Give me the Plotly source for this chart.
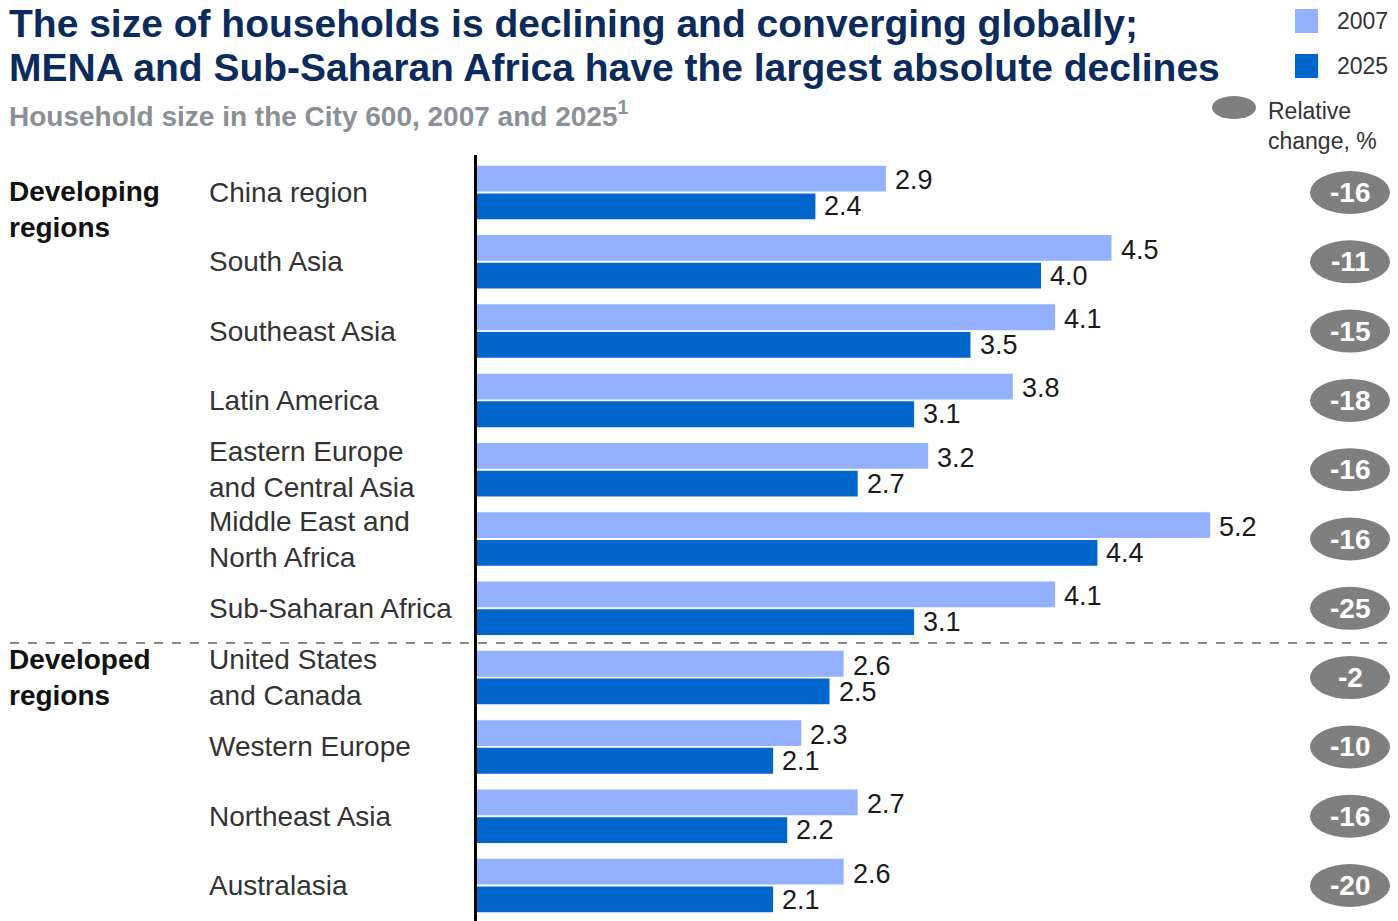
import plotly.graph_objects as go

# Household size by region, City 600
regions = [
    "China region", "South Asia", "Southeast Asia", "Latin America",
    "Eastern Europe<br>and Central Asia", "Middle East and<br>North Africa",
    "Sub-Saharan Africa", "United States<br>and Canada", "Western Europe",
    "Northeast Asia", "Australasia",
]
size_2007 = [2.9, 4.5, 4.1, 3.8, 3.2, 5.2, 4.1, 2.6, 2.3, 2.7, 2.6]
size_2025 = [2.4, 4.0, 3.5, 3.1, 2.7, 4.4, 3.1, 2.5, 2.1, 2.2, 2.1]
relative_change = [-16, -11, -15, -18, -16, -16, -25, -2, -10, -16, -20]
group_labels = ["Developing<br>regions", "Developed<br>regions"]
group_first_row = [0, 7]
title_lines = [
    "The size of households is declining and converging globally;",
    "MENA and Sub-Saharan Africa have the largest absolute declines",
]
subtitle = "Household size in the City 600, 2007 and 2025<sup>1</sup>"

FONT = "Liberation Sans, Arial, Helvetica, sans-serif"
LIGHT = "#93B1FF"
DARK = "#0066CC"
OVAL = "#7F7F7F"
NAVY = "#0B2B5C"
LABEL = "#333333"

W, H = 1398, 921
x_left = 477 / W
plot_top = 155
px_per_unit = 141.0
x_max = (W - 477) / px_per_unit

row_pitch = 69.3
first_center = 192.5
y_top = -(first_center - plot_top) / row_pitch
y_bottom = (len(regions) - 1) + (H - (first_center + row_pitch * (len(regions) - 1))) / row_pitch

fig = go.Figure()
fig.add_trace(go.Bar(
    y=regions, x=size_2007, orientation="h", name="2007",
    marker=dict(color=LIGHT, line=dict(width=0)),
))
fig.add_trace(go.Bar(
    y=regions, x=size_2025, orientation="h", name="2025",
    marker=dict(color=DARK, line=dict(width=0)),
))

annotations = []
shapes = []

# value labels next to each bar
for r, v7, v25 in zip(regions, size_2007, size_2025):
    annotations.append(dict(
        x=v7, y=r, xref="x", yref="y", text=f"{v7:.1f}", showarrow=False,
        xanchor="left", yanchor="middle", xshift=7, yshift=12,
        font=dict(family=FONT, size=27, color="#1a1a1a"),
    ))
    annotations.append(dict(
        x=v25, y=r, xref="x", yref="y", text=f"{v25:.1f}", showarrow=False,
        xanchor="left", yanchor="middle", xshift=7, yshift=-14,
        font=dict(family=FONT, size=27, color="#1a1a1a"),
    ))

# region names, left aligned
for r in regions:
    annotations.append(dict(
        x=207 / W, y=r, xref="paper", yref="y", text=r, showarrow=False,
        xanchor="left", yanchor="middle", align="left",
        font=dict(family=FONT, size=28, color=LABEL),
    ))

# group headings
for g, idx in zip(group_labels, group_first_row):
    annotations.append(dict(
        x=7 / W, y=regions[idx], xref="paper", yref="y", text=g,
        showarrow=False, xanchor="left", yanchor="middle", align="left",
        yshift=-17 if idx == 0 else 0,
        font=dict(family=FONT, size=28, color="#111111", weight="bold"),
    ))

# relative-change ovals
oval_cx = 1350 / W
oval_hw = 40 / W
for i, (r, c) in enumerate(zip(regions, relative_change)):
    shapes.append(dict(
        type="circle", xref="paper", yref="y",
        x0=oval_cx - oval_hw, x1=oval_cx + oval_hw, y0=i - 0.31, y1=i + 0.31,
        fillcolor=OVAL, line=dict(width=0), layer="above",
    ))
    annotations.append(dict(
        x=oval_cx, y=r, xref="paper", yref="y", text=str(c), showarrow=False,
        xanchor="center", yanchor="middle",
        font=dict(family=FONT, size=28, color="white", weight="bold"),
    ))

# dashed separator between developing and developed
shapes.append(dict(
    type="line", xref="paper", yref="y", x0=10 / W, x1=1390 / W,
    y0=6.5, y1=6.5, line=dict(color="#8a8a8a", width=2, dash="dash"),
))

# title (two lines) and subtitle
for line, cy in zip(title_lines, [23, 67]):
    annotations.append(dict(
        x=7 / W, y=1 - cy / H, xref="paper", yref="paper", text=line,
        showarrow=False, xanchor="left", yanchor="middle", align="left",
        font=dict(family=FONT, size=39, color=NAVY, weight="bold"),
    ))
annotations.append(dict(
    x=7 / W, y=1 - 114 / H, xref="paper", yref="paper", text=subtitle,
    showarrow=False, xanchor="left", yanchor="middle", align="left",
    font=dict(family=FONT, size=28, color="#8a8f98", weight="bold"),
))

# legend
legend_items = [("2007", LIGHT, 21), ("2025", DARK, 66)]
for txt, col, cy in legend_items:
    shapes.append(dict(
        type="rect", xref="paper", yref="paper",
        x0=1295 / W, x1=1318 / W, y0=1 - (cy + 12) / H, y1=1 - (cy - 12) / H,
        fillcolor=col, line=dict(width=0),
    ))
    annotations.append(dict(
        x=1335 / W, y=1 - cy / H, xref="paper", yref="paper", text=txt,
        showarrow=False, xanchor="left", yanchor="middle",
        font=dict(family=FONT, size=23, color=LABEL),
    ))
shapes.append(dict(
    type="circle", xref="paper", yref="paper",
    x0=1212 / W, x1=1256 / W, y0=1 - 119 / H, y1=1 - 96 / H,
    fillcolor=OVAL, line=dict(width=0),
))
annotations.append(dict(
    x=1266 / W, y=1 - 126 / H, xref="paper", yref="paper",
    text="Relative<br>change, %", showarrow=False, xanchor="left",
    yanchor="middle", align="left",
    font=dict(family=FONT, size=23, color=LABEL),
))

fig.update_layout(
    width=W, height=H,
    margin=dict(l=0, r=0, t=0, b=0),
    paper_bgcolor="white", plot_bgcolor="white",
    barmode="group", bargap=0.2, bargroupgap=0.07,
    showlegend=False,
    xaxis=dict(domain=[x_left, 1], range=[0, x_max], visible=False,
               fixedrange=True),
    yaxis=dict(domain=[0, (H - plot_top) / H], range=[y_bottom, y_top],
               type="category", categoryorder="array", categoryarray=regions,
               showticklabels=False, ticks="", showgrid=False, zeroline=False,
               showline=True, linecolor="black", linewidth=3, fixedrange=True),
    annotations=annotations, shapes=shapes,
)

fig.write_html("out.html", config={"displayModeBar": False})
